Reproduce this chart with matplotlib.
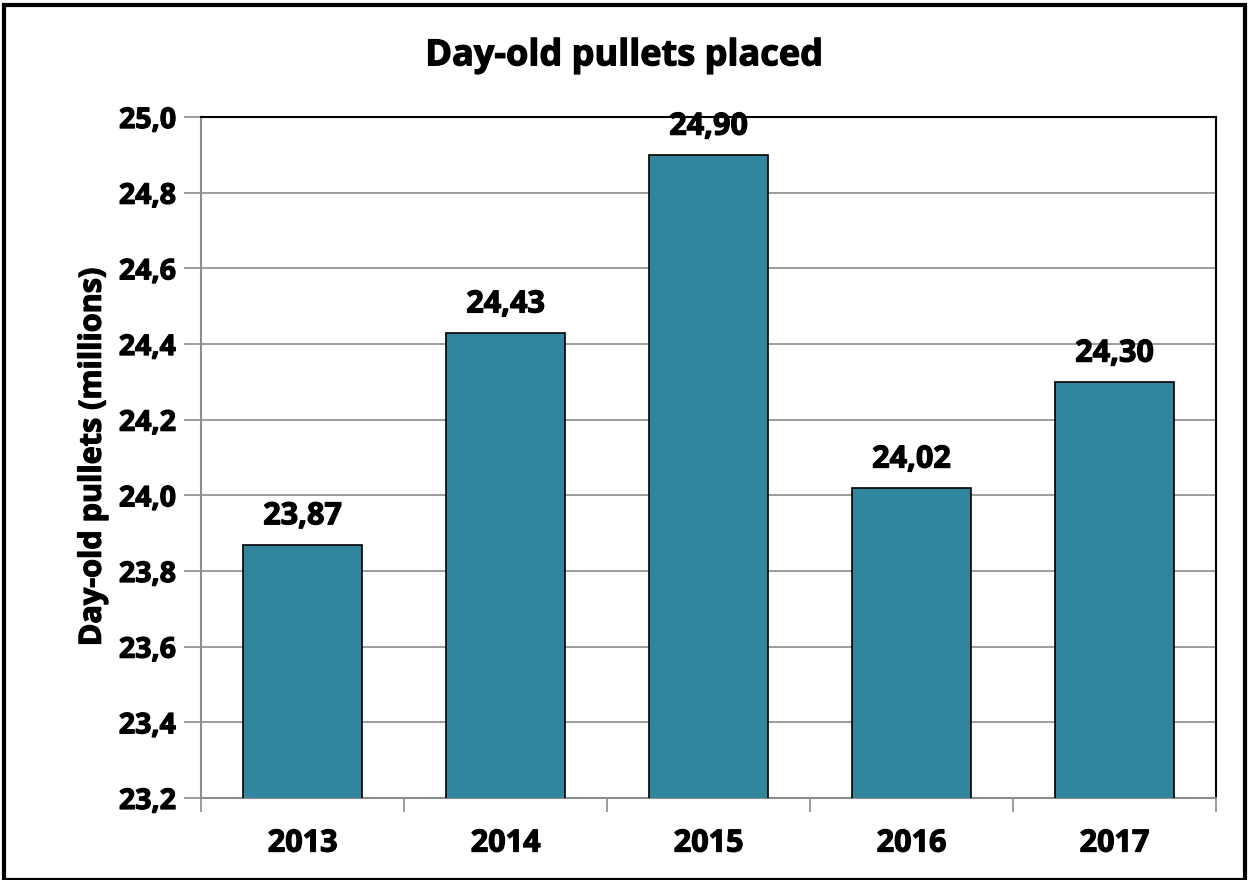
import matplotlib.pyplot as plt
import matplotlib.patheffects as pe
from matplotlib.patches import Rectangle

years = ['2013', '2014', '2015', '2016', '2017']
pullets = [23.87, 24.43, 24.90, 24.02, 24.30]
labels = ['23,87', '24,43', '24,90', '24,02', '24,30']
yticks = [23.2, 23.4, 23.6, 23.8, 24.0, 24.2, 24.4, 24.6, 24.8, 25.0]

plt.rcParams['font.family'] = ['Open Sans', 'DejaVu Sans']
plt.rcParams['font.weight'] = 'bold'
thick = [pe.withStroke(linewidth=0.9, foreground='black')]

fig = plt.figure(figsize=(12.49, 8.80), dpi=100)
ax = fig.add_axes([0.161, 0.0932, 0.8126, 0.7738])

x = range(len(years))
bars = ax.bar(x, pullets, width=0.59, color='#31859C', edgecolor='black',
              linewidth=1.2, zorder=3)
for xi, v, lab in zip(x, pullets, labels):
    ax.text(xi, v + 0.035, lab, ha='center', va='bottom', fontsize=22,
            fontweight='bold', path_effects=thick)

ax.set_ylim(23.2, 25.0)
ax.set_xlim(-0.5, 4.5)
ax.set_yticks(yticks)
ax.set_yticklabels([f'{t:.1f}'.replace('.', ',') for t in yticks],
                   fontsize=20.5, fontweight='bold', path_effects=thick)
ax.yaxis.grid(True, color='#8c8c8c', linewidth=1.2, zorder=0)

ax.set_xticks([i - 0.5 for i in range(6)])
ax.set_xticklabels([])
ax.set_xticks(list(x), minor=True)
ax.set_xticklabels(years, minor=True, fontsize=22, fontweight='bold',
                   path_effects=thick)
ax.tick_params(axis='x', which='major', length=10, color='#8c8c8c', width=1.2)
ax.tick_params(axis='x', which='minor', length=0, pad=22)
ax.tick_params(axis='y', length=12, color='#8c8c8c', width=1.2, pad=6)

for side in ['left', 'bottom']:
    ax.spines[side].set_color('#8c8c8c')
    ax.spines[side].set_linewidth(1.5)
for side in ['top', 'right']:
    ax.spines[side].set_color('black')
    ax.spines[side].set_linewidth(1.5)

ax.set_ylabel('Day-old pullets (millions)', fontsize=22, fontweight='bold',
              labelpad=8, path_effects=thick)
fig.text(0.5, 0.936, 'Day-old pullets placed', ha='center', va='center',
         fontsize=26, fontweight='bold', path_effects=thick)

fig.patches.append(Rectangle((0.003, 0.0), 0.994, 0.994, transform=fig.transFigure,
                             fill=False, edgecolor='black', linewidth=3))

fig.savefig('out.png', dpi=100)
